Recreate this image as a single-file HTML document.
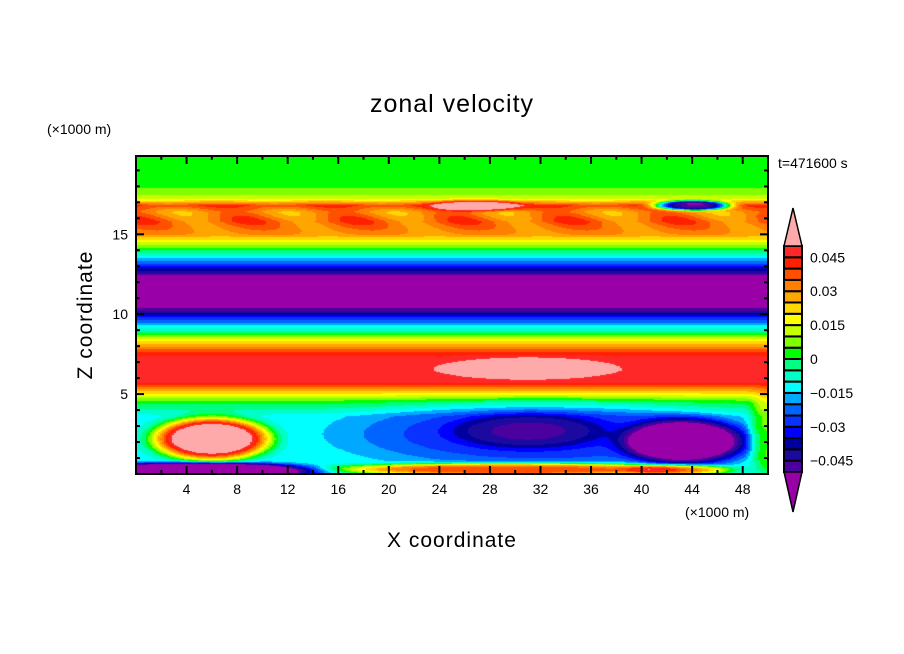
<!DOCTYPE html>
<html><head><meta charset="utf-8"><style>
body{margin:0;background:#fff;width:904px;height:654px;overflow:hidden;font-family:"Liberation Sans",sans-serif}
</style></head><body>
<svg id="chart" width="904" height="654" xmlns="http://www.w3.org/2000/svg" style="position:absolute;left:0;top:0">
<text x="452" y="112" font-size="25" text-anchor="middle" letter-spacing="1">zonal velocity</text>
<text x="47" y="134" font-size="14">(×1000 m)</text>
<text x="685" y="517" font-size="14">(×1000 m)</text>
<text x="778" y="168" font-size="14">t=471600 s</text>
<text x="452" y="547" font-size="21" text-anchor="middle" letter-spacing="1">X coordinate</text>
<text transform="translate(92,315) rotate(-90)" font-size="21" text-anchor="middle" letter-spacing="1">Z coordinate</text>
<foreignObject x="136" y="156" width="632" height="318"><canvas xmlns="http://www.w3.org/1999/xhtml" id="cv" width="632" height="318"></canvas></foreignObject>
<g id="axes"></g>
<g id="cbar"></g>
</svg>
<script>
// vertical profile of u at z (km)
const profZ = [0,3.6,4.0,4.5,4.9,5.3,5.8,6.5,7.3,7.8,8.3,8.8,9.3,9.8,10.2,10.7,11.5,12.2,12.6,13.0,13.5,14.0,14.5,15.0,15.8,16.4,16.8,17.2,17.6,18.2,20];
const profU = [-0.012,-0.012,-0.006,0.002,0.015,0.03,0.048,0.049,0.048,0.035,0.02,0.0,-0.015,-0.03,-0.045,-0.06,-0.062,-0.06,-0.045,-0.03,-0.015,0.0,0.015,0.03,0.036,0.03,0.04,0.015,0.007,0.003,0.002];
// anomaly blobs: centre x, centre z, radius x, radius z, amplitude
const blobX = [6, 32, 31, 43.5, 30, 43, 5, 31, 27, 44, 50];
const blobZ = [2.2, 2.5, 2.7, 2.0, 0.3, 0.25, 0.2, 6.6, 16.8, 16.8, 2.5];
const blobRX = [4.5, 15, 6, 4.8, 14, 4, 9, 6, 3.5, 3, 1.5];
const blobRZ = [1.3, 2.1, 1.1, 1.4, 0.4, 0.35, 0.5, 0.6, 0.35, 0.3, 2.5];
const blobA = [0.08, -0.017, -0.017, -0.05, 0.055, 0.03, -0.075, 0.012, 0.03, -0.085, 0.02];
// colour levels
const levels = [-0.05,-0.045,-0.04,-0.035,-0.03,-0.025,-0.02,-0.015,-0.01,-0.005,0,0.005,0.01,0.015,0.02,0.025,0.03,0.035,0.04,0.045,0.05];
const colors = ["#9900a8","#4c00a0","#1c0aa0","#0000a0","#0000ff","#0a32ff","#0064ff","#00a8ff","#00ffff","#00ffc8","#00ff80","#00ff00","#80ff00","#c8ff00","#ffff00","#ffd700","#ffa500","#ff8000","#ff5000","#ff2000","#ff2828","#ffaaaa"];
const xTicks = [4,8,12,16,20,24,28,32,36,40,44,48];
const zTicks = [5,10,15];
const cbLabels = ["0.045","0.03","0.015","0","−0.015","−0.03","−0.045"];
const cbLabelVals = [0.045,0.03,0.015,0,-0.015,-0.03,-0.045];

const X0=136,X1=768,Y0=156,Y1=474, XMAX=50, ZMAX=19.9;
const sx = x => X0 + x/XMAX*(X1-X0);
const sz = z => Y1 - z/ZMAX*(Y1-Y0);
function prof(z){for(let i=1;i<profZ.length;i++){if(z<=profZ[i]){const t=(z-profZ[i-1])/(profZ[i]-profZ[i-1]);return profU[i-1]+t*(profU[i]-profU[i-1]);}}return profU[profU.length-1];}
function field(x,z){let u=prof(z);
 for(let k=0;k<blobX.length;k++){const dx=(x-blobX[k])/blobRX[k],dz=(z-blobZ[k])/blobRZ[k];const r=dx*dx+dz*dz;u+=blobA[k]*Math.exp(-r*r);}
 if(z>14.8&&z<17.3){u+=0.008*Math.sin((x/8.5)*2*Math.PI+ (z-15)*1.5)*Math.exp(-Math.pow((z-16)/0.8,2));}
 return u;}
function colorOf(u){if(u<levels[0])return colors[0];for(let i=1;i<levels.length;i++){if(u<levels[i])return colors[i];}return colors[colors.length-1];}
const cv=document.getElementById('cv'),ctx=cv.getContext('2d');
const W=cv.width,H=cv.height;
for(let py=0;py<H;py+=1){for(let px=0;px<W;px+=2){const x=(px+1)/W*XMAX,z=(H-py-0.5)/H*ZMAX;ctx.fillStyle=colorOf(field(x,z));ctx.fillRect(px,py,2,1);}}

const NS="http://www.w3.org/2000/svg";
function mk(tag,attrs,parent){const e=document.createElementNS(NS,tag);for(const k in attrs)e.setAttribute(k,attrs[k]);parent.appendChild(e);return e;}
const ax=document.getElementById('axes');
const frame=mk('rect',{x:X0,y:Y0,width:X1-X0,height:Y1-Y0,fill:'none',stroke:'#000','stroke-width':2},ax);


for(let x=2;x<XMAX;x+=2){const major=x%4===0,L=major?8:4;
 mk('line',{x1:sx(x),x2:sx(x),y1:Y1,y2:Y1-L,stroke:'#000','stroke-width':2},ax);
 mk('line',{x1:sx(x),x2:sx(x),y1:Y0,y2:Y0+L,stroke:'#000','stroke-width':2},ax);}
for(let z=1;z<ZMAX;z+=1){const major=z%5===0,L=major?8:4;
 mk('line',{x1:X0,x2:X0+L,y1:sz(z),y2:sz(z),stroke:'#000','stroke-width':2},ax);
 mk('line',{x1:X1,x2:X1-L,y1:sz(z),y2:sz(z),stroke:'#000','stroke-width':2},ax);}
xTicks.forEach(v=>{const t=mk('text',{x:sx(v),y:Y1+20,'font-size':14,'text-anchor':'middle'},ax);t.textContent=v;
 
 });
zTicks.forEach(v=>{const t=mk('text',{x:X0-8,y:sz(v)+5,'font-size':14,'text-anchor':'end'},ax);t.textContent=v;
 
 });

const cb=document.getElementById('cbar');
const CX=784,CW=18,CT=246,CB=472;
const cy=v=>CB-(v-levels[0])/(levels[levels.length-1]-levels[0])*(CB-CT);
for(let i=0;i<levels.length-1;i++){const r=mk('rect',{x:CX,y:cy(levels[i+1]),width:CW,height:cy(levels[i])-cy(levels[i+1]),fill:colors[i+1],stroke:'#000','stroke-width':2},cb);
 
 }
const up=mk('polygon',{points:`${CX},${CT} ${CX+CW/2},${CT-38} ${CX+CW},${CT}`,fill:colors[colors.length-1],stroke:'#000','stroke-width':1.5},cb);


const dn=mk('polygon',{points:`${CX},${CB} ${CX+CW/2},${CB+40} ${CX+CW},${CB}`,fill:colors[0],stroke:'#000','stroke-width':1.5},cb);


cbLabelVals.forEach((v,i)=>{const t=mk('text',{x:810,y:cy(v)+5,'font-size':14},cb);t.textContent=cbLabels[i];
 
 });
</script>
</body></html>
